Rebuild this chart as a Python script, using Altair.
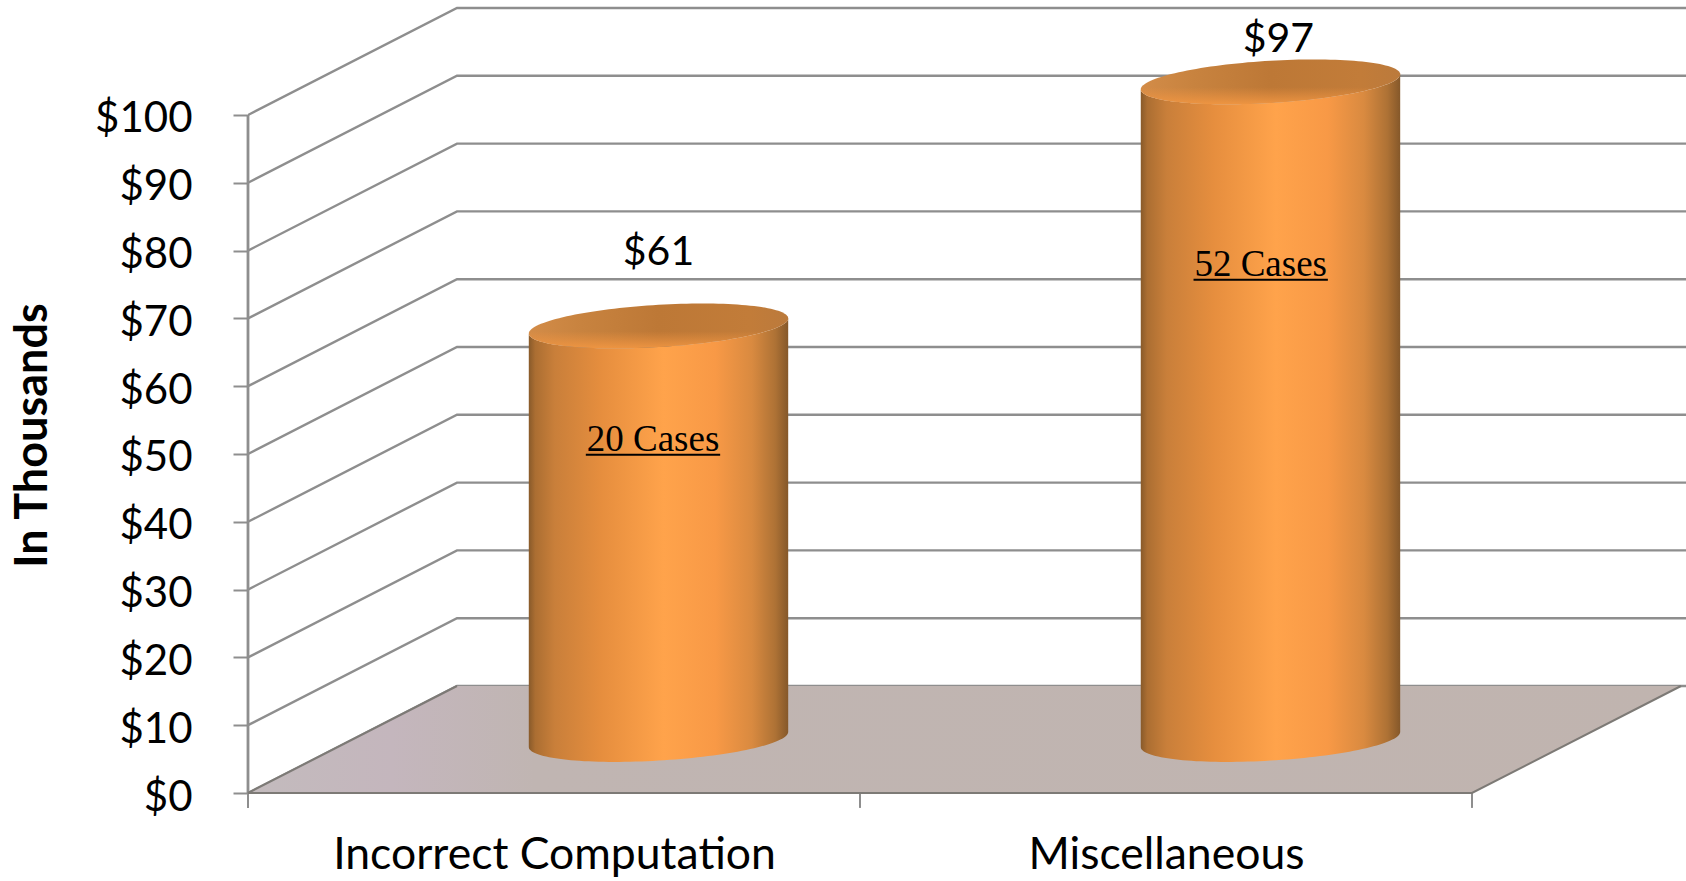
import math

import altair as alt
import pandas as pd

# Chart values
categories = ["Incorrect Computation", "Miscellaneous"]
amounts = [61, 97]
cases = [20, 52]
y_ticks = list(range(0, 101, 10))
slots = [0, 1, 2]

# Oblique projection: a step of one full depth moves a point right and up
DEPTH_X = 0.3415
DEPTH_Y = 15.78
X_MAX = 2.3497
Y_MAX = 116.96
X_OF_CATEGORY = [0.5, 1.5]

# Cylinder cross-section, in category units and value units
RADIUS_X = 0.1995
RADIUS_DEPTH = 0.2095
SPAN = math.hypot(RADIUS_X, RADIUS_DEPTH * DEPTH_X)
TILT = math.atan2(RADIUS_DEPTH * DEPTH_X, RADIUS_X)
HALF_HEIGHT = RADIUS_DEPTH * DEPTH_Y
STEPS = 72

# Lift of each dollar label above its bar, and drop of each case label below it
LABEL_LIFT = [10.8, 6.2]
CASE_DROP = [18.4, 28.6]
CASE_SHIFT = [-0.009, -0.016]
LABEL_SHIFT = [0.0, 0.013]
UNDERLINE = 0.2195

FONT = "Lato"
GRID = "#8e8e8e"

label_expr = f"datum.value < 1 ? '{categories[0]}' : '{categories[1]}'"
x_axis = alt.Axis(
    values=X_OF_CATEGORY, labelExpr=label_expr, ticks=False, domain=False, grid=False,
    labelFont=FONT, labelFontSize=44.5, labelColor="#000000", labelPadding=62, labelLimit=800,
    labelBaseline="middle", labelAlign="center", title=None,
)
y_axis = alt.Axis(
    values=y_ticks, format="$d", domain=False, grid=False,
    tickSize=15, tickColor=GRID, tickWidth=2,
    labelFont=FONT, labelFontSize=42, labelColor="#000000", labelPadding=41, labelOffset=4,
    labelBaseline="middle", title="In Thousands",
    titleFont=FONT, titleFontSize=45, titleFontWeight="bold", titleColor="#000000",
    titleX=-216, titleY=435, titleAngle=270,
    titleAlign="center", titleBaseline="middle",
)
x_scale = alt.Scale(domain=[0, X_MAX], nice=False, zero=False)
y_scale = alt.Scale(domain=[0, Y_MAX], nice=False, zero=False)
X = lambda f: alt.X(f, type="quantitative", scale=x_scale, axis=x_axis)
Y = lambda f: alt.Y(f, type="quantitative", scale=y_scale, axis=y_axis)


def gradient(stops, x2=1, y2=0):
    return alt.Gradient(
        gradient="linear", x1=0, y1=0, x2=x2, y2=y2,
        stops=[alt.GradientStop(offset=o, color=c) for o, c in stops],
    )


# Gridlines run from the front wall edge along the side wall, then across the back
grid_rows = []
for v in y_ticks:
    grid_rows += [
        {"v": v, "i": 0, "x": 0, "y": v},
        {"v": v, "i": 1, "x": DEPTH_X, "y": v + DEPTH_Y},
        {"v": v, "i": 2, "x": X_MAX, "y": v + DEPTH_Y},
    ]
grid = alt.Chart(pd.DataFrame(grid_rows)).mark_line(
    color=GRID, strokeWidth=2.4, clip=True
).encode(x=X("x"), y=Y("y"), detail="v:N", order="i:Q")

# Floor parallelogram
floor_df = pd.DataFrame({
    "x": [0, DEPTH_X, 2, 2 + DEPTH_X],
    "lo": [0, 0, 0, DEPTH_Y],
    "hi": [0, DEPTH_Y, DEPTH_Y, DEPTH_Y],
})
floor = alt.Chart(floor_df).mark_area(
    color=gradient([(0, "#c3bbbd"), (0.1, "#c4b6bd"), (0.2, "#c0b5b2"), (1, "#c0b4af")])
).encode(x=X("x"), y=Y("lo"), y2="hi:Q")

floor_edges = alt.Chart(pd.DataFrame({
    "x": [DEPTH_X, 0, 2, 2 + DEPTH_X],
    "y": [DEPTH_Y, 0, 0, DEPTH_Y],
    "i": [0, 1, 2, 3],
})).mark_line(color="#7d7a76", strokeWidth=2).encode(x=X("x"), y=Y("y"), order="i:Q")

# Value axis line and the tick marks under the category slots
wall_edge = alt.Chart(pd.DataFrame({"x": [0], "y": [0], "y2": [100]})).mark_rule(
    color=GRID, strokeWidth=2.8
).encode(x=X("x"), y=Y("y"), y2="y2:Q")

slot_ticks = alt.Chart(pd.DataFrame({"x": slots, "y": [0] * 3, "y2": [-2.2] * 3})).mark_rule(
    color=GRID, strokeWidth=2
).encode(x=X("x"), y=Y("y"), y2="y2:Q")

# Cylinder outlines, traced from the left extreme to the right along each rim
body_rows, top_rows = [], []
for idx, (cx, amount) in enumerate(zip(X_OF_CATEGORY, amounts)):
    center_x = cx + 0.5 * DEPTH_X
    for n in range(STEPS + 1):
        s = math.pi * n / STEPS
        x = center_x - SPAN * math.cos(s)
        upper = HALF_HEIGHT * math.sin(TILT + math.pi - s)
        lower = HALF_HEIGHT * math.sin(TILT - math.pi + s)
        base_y = 0.5 * DEPTH_Y
        top_y = amount + 0.5 * DEPTH_Y
        body_rows.append({"bar": idx, "n": n, "x": x, "lo": base_y + lower, "hi": top_y + lower})
        top_rows.append({"bar": idx, "n": n, "x": x, "lo": top_y + lower, "hi": top_y + upper})

body_fill = gradient([
    (0, "#885a2a"), (0.025, "#ab6e32"), (0.1, "#c97f3a"), (0.28, "#e68e3e"),
    (0.52, "#ffa34b"), (0.72, "#f89946"), (0.86, "#d98a40"), (0.95, "#ae7235"), (1, "#85582a"),
])
top_fill = gradient([
    (0, "#d38c48"), (0.2, "#c8833f"), (0.5, "#bd7836"), (0.85, "#c27c39"), (1, "#bb7a3c"),
])
# Lit front rim that melts the cap into the wall below it
rim_fill = gradient(
    [(0, "rgba(238,146,64,0)"), (0.62, "rgba(238,146,64,0)"), (1, "rgba(240,150,66,0.95)")],
    x2=0, y2=1,
)


def shape(rows, bar, fill):
    frame = pd.DataFrame([r for r in rows if r["bar"] == bar])
    return alt.Chart(frame).mark_area(color=fill).encode(x=X("x"), y=Y("lo"), y2="hi:Q")


cylinders = []
for i in range(2):
    cylinders += [
        shape(body_rows, i, body_fill),
        shape(top_rows, i, top_fill),
        shape(top_rows, i, rim_fill),
    ]

# Dollar labels and underlined case counts
labels_df = pd.DataFrame({
    "x": [c + 0.5 * DEPTH_X + s for c, s in zip(X_OF_CATEGORY, LABEL_SHIFT)],
    "amount": amounts,
    "y": [a + 0.5 * DEPTH_Y + l for a, l in zip(amounts, LABEL_LIFT)],
})
amount_text = alt.Chart(labels_df).mark_text(
    font=FONT, fontSize=41, color="#000000", baseline="middle"
).encode(x=X("x"), y=Y("y"), text=alt.Text("amount:Q", format="$d"))

cases_df = pd.DataFrame({
    "x": [c + 0.5 * DEPTH_X + s for c, s in zip(X_OF_CATEGORY, CASE_SHIFT)],
    "cases": cases,
    "y": [a + 0.5 * DEPTH_Y - d for a, d in zip(amounts, CASE_DROP)],
})
cases_text = alt.Chart(cases_df).transform_calculate(
    label="datum.cases + ' Cases'"
).mark_text(
    font="Liberation Serif", fontSize=37, color="#000000", baseline="alphabetic"
).encode(x=X("x"), y=Y("y"), text="label:N")

underline_df = cases_df.assign(
    x1=cases_df["x"] - UNDERLINE / 2, x2=cases_df["x"] + UNDERLINE / 2, u=cases_df["y"] - 0.6
)
underlines = alt.Chart(underline_df).mark_rule(color="#000000", strokeWidth=2).encode(
    x=X("x1"), x2="x2:Q", y=Y("u")
)

chart = alt.layer(
    grid, wall_edge, slot_ticks, floor, floor_edges,
    *cylinders,
    amount_text, cases_text, underlines,
).properties(
    width=1438,
    height=793,
    padding={"left": 248, "top": 0, "right": 0, "bottom": 88},
    autosize=alt.AutoSizeParams(type="none"),
    background="#ffffff",
).configure_view(stroke=None)

chart.save("out.html", embed_options={"renderer": "svg", "actions": False})
